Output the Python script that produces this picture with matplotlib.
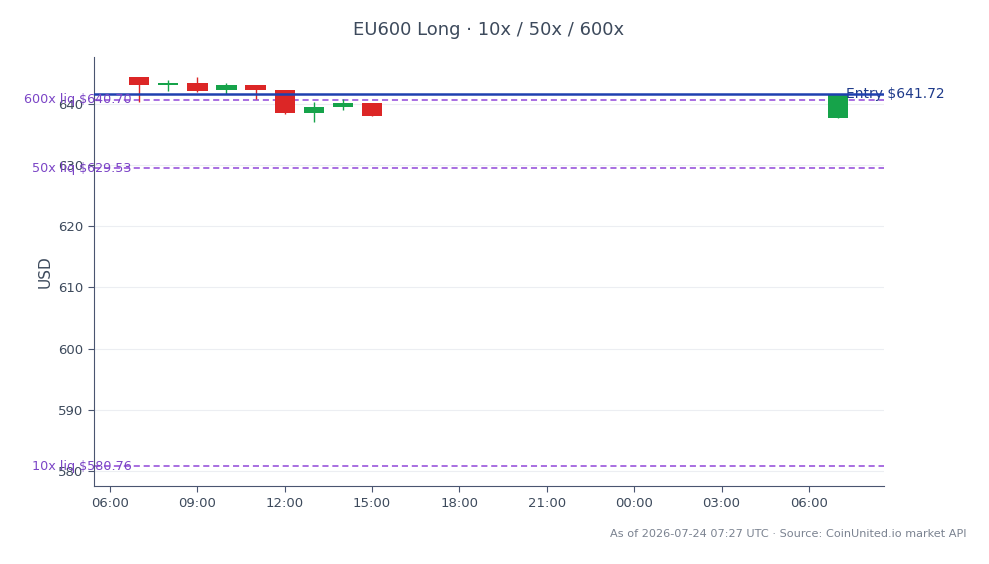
import matplotlib
matplotlib.use("Agg")
import matplotlib.pyplot as plt
import matplotlib.dates as mdates
import matplotlib.transforms as mtransforms
import pandas as pd

# hourly candles (UTC)
times = pd.to_datetime([
    "2026-07-23 07:00", "2026-07-23 08:00", "2026-07-23 09:00",
    "2026-07-23 10:00", "2026-07-23 11:00", "2026-07-23 12:00",
    "2026-07-23 13:00", "2026-07-23 14:00", "2026-07-23 15:00",
    "2026-07-24 07:00",
])
opens = [644.47, 643.06, 643.44, 642.24, 643.11, 642.29, 638.48, 639.46, 640.16, 637.76]
highs = [644.50, 643.93, 644.47, 643.39, 643.11, 642.29, 640.28, 640.77, 640.16, 641.60]
lows = [640.28, 642.13, 641.90, 641.69, 640.77, 638.36, 637.10, 639.02, 638.09, 637.76]
closes = [643.06, 643.50, 642.18, 643.11, 642.24, 638.58, 639.46, 640.16, 638.09, 641.60]

entry = 641.72
liq_labels = ["600x liq", "50x liq", "10x liq"]
liq_prices = [640.70, 629.53, 580.76]

UP = "#16a34a"
DOWN = "#dc2626"
TEXT = "#3d4a5c"

fig = plt.figure(figsize=(9.89, 5.64), dpi=100)
ax = fig.add_axes([0.095, 0.138, 0.799, 0.761])

width = 0.7 / 24
for t, o, h, l, c in zip(times, opens, highs, lows, closes):
    x = mdates.date2num(t)
    col = UP if c >= o else DOWN
    ax.vlines(x, l, h, color=col, linewidth=1, zorder=2)
    ax.bar(x, abs(c - o), bottom=min(o, c), width=width, color=col, zorder=3)

trans = mtransforms.blended_transform_factory(ax.transAxes, ax.transData)

ax.axhline(entry, color="#1e40af", linewidth=1.8, zorder=4)
ax.text(0.952, entry, f"Entry ${entry:.2f}", color="#1e3a8a", fontsize=10,
        ha="left", va="center", transform=trans)

for lab, p in zip(liq_labels, liq_prices):
    ax.axhline(p, color="#9147d8", linewidth=1.1, linestyle=(0, (4, 2.5)), zorder=1)
    ax.text(0.048, p, f"{lab} ${p:.2f}", color="#7b45c6", fontsize=9.2,
            ha="right", va="center", transform=trans, zorder=5)

ax.set_xlim(mdates.date2num(pd.Timestamp("2026-07-23 05:27")),
            mdates.date2num(pd.Timestamp("2026-07-24 08:35")))
ax.set_ylim(577.5, 647.7)
ax.xaxis.set_major_locator(mdates.HourLocator(byhour=range(0, 24, 3)))
ax.xaxis.set_major_formatter(mdates.DateFormatter("%H:%M"))
ax.set_yticks([580, 590, 600, 610, 620, 630, 640])

ax.grid(axis="y", color="#eceef2", linewidth=0.8)
ax.set_axisbelow(True)
for s in ["top", "right"]:
    ax.spines[s].set_visible(False)
for s in ["left", "bottom"]:
    ax.spines[s].set_color("#4a5570")
ax.tick_params(axis="both", colors="#4a5570", labelcolor=TEXT, labelsize=9.5, length=4)

ax.set_ylabel("USD", color=TEXT, fontsize=11)
ax.set_title("EU600 Long · 10x / 50x / 600x", color=TEXT, fontsize=13, pad=16)

fig.text(0.977, 0.053, "As of 2026-07-24 07:27 UTC · Source: CoinUnited.io market API",
         ha="right", va="center", color="#7a8290", fontsize=8.15)

fig.savefig("out.png", dpi=100)
